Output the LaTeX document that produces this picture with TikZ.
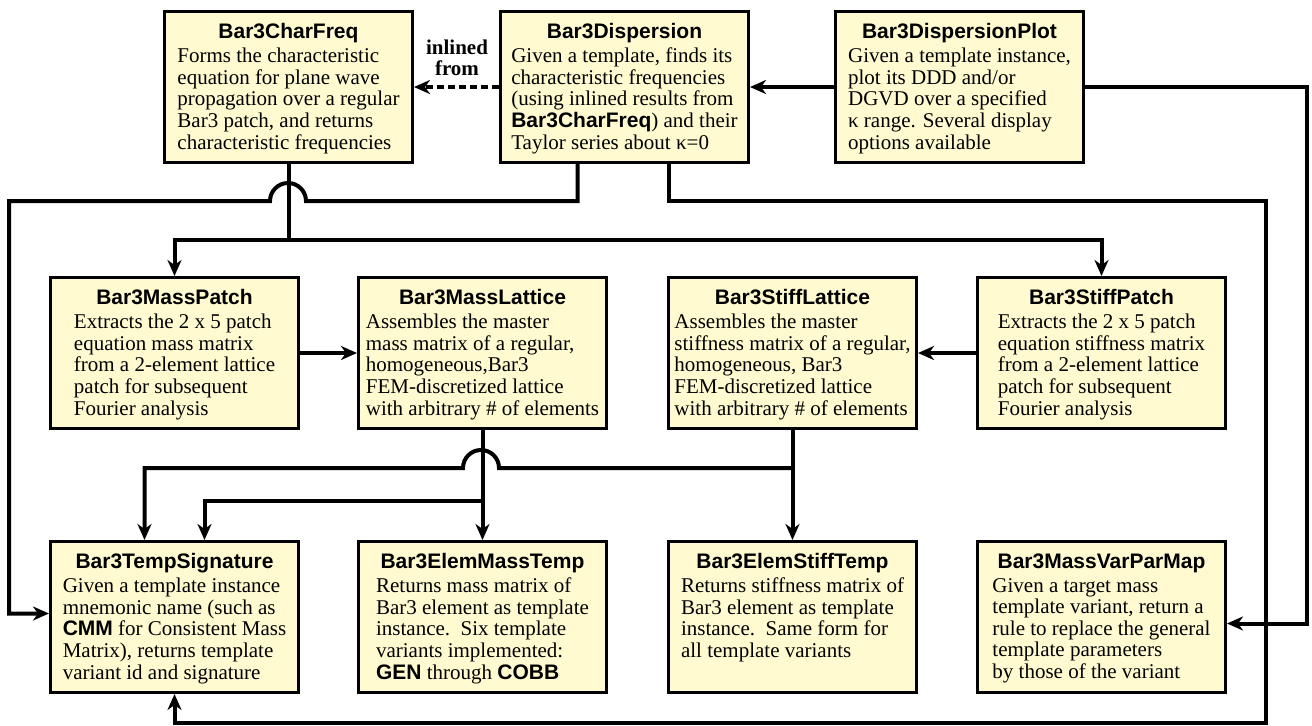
\documentclass[tikz,border=0pt]{standalone}
\usepackage{fontspec}
\setmainfont{Liberation Serif}
\setsansfont{Liberation Sans}
\usetikzlibrary{arrows.meta}

\definecolor{notefill}{RGB}{255,250,208}
\newcommand{\tname}[1]{{\sffamily\bfseries #1}}
\newcommand{\modtext}[2]{\parbox[c][75.5pt][t]{124pt}{%
    \fontsize{10.5}{10.8}\selectfont\vspace*{6pt}\centering
    \tname{#1}\par\vspace{1.2pt}
    \begin{tabular}[t]{@{}l@{}}#2\end{tabular}}}

\begin{document}
\begin{tikzpicture}[x=0.5pt, y=-0.5pt]
      \tikzset{>={Stealth[length=8pt,width=7pt,inset=2.5pt]}}
      \tikzset{modbox/.style={draw, line width=1.5pt, fill=notefill, inner sep=0pt, anchor=north west},
               wire/.style={line width=2pt}}
      \useasboundingbox (0,0) rectangle (1312,725);

      % top row
      \node[modbox] (charfreq) at (163,10) {\modtext{Bar3CharFreq}{Forms the characteristic\\
            equation for plane wave\\ propagation over a regular\\ Bar3 patch, and returns\\
            characteristic frequencies}};
      \node[modbox] (dispersion) at (499,10) {\modtext{Bar3Dispersion}{Given a template, finds its\\
            characteristic frequencies\\ (using inlined results from\\ \tname{Bar3CharFreq}) and their\\
            Taylor series about κ=0}};
      \node[modbox] (dispplot) at (834,10) {\modtext{Bar3DispersionPlot}{Given a template instance,\\
            plot its DDD and/or\\ DGVD over a specified\\ κ range. Several display\\
            options available}};

      % middle row
      \node[modbox] (masspatch) at (49,276) {\modtext{Bar3MassPatch}{Extracts the 2 x 5 patch\\
            equation mass matrix\\ from a 2-element lattice\\ patch for subsequent\\ Fourier analysis}};
      \node[modbox] (masslattice) at (357,276) {\modtext{Bar3MassLattice}{Assembles the master\\
            mass matrix of a regular,\\ homogeneous,Bar3\\ FEM-discretized lattice\\
            with arbitrary \# of elements}};
      \node[modbox] (stifflattice) at (667,276) {\modtext{Bar3StiffLattice}{Assembles the master\\
            stiffness matrix of a regular,\\ homogeneous, Bar3\\ FEM-discretized lattice\\
            with arbitrary \# of elements}};
      \node[modbox] (stiffpatch) at (976,276) {\modtext{Bar3StiffPatch}{Extracts the 2 x 5 patch\\
            equation stiffness matrix\\ from a 2-element lattice\\ patch for subsequent\\ Fourier analysis}};

      % bottom row
      \node[modbox] (tempsig) at (49,540) {\modtext{Bar3TempSignature}{Given a template instance\\
            mnemonic name (such as\\ \tname{CMM} for Consistent Mass\\ Matrix), returns template\\
            variant id and signature}};
      \node[modbox] (elemmass) at (357,540) {\modtext{Bar3ElemMassTemp}{Returns mass matrix of\\
            Bar3 element as template\\ instance.\ \ Six template\\ variants implemented:\\
            \tname{GEN} through \tname{COBB}}};
      \node[modbox] (elemstiff) at (667,540) {\modtext{Bar3ElemStiffTemp}{Returns stiffness matrix of\\
            Bar3 element as template\\ instance.\ \ Same form for\\ all template variants}};
      \node[modbox] (massvarpar) at (976,540) {\modtext{Bar3MassVarParMap}{Given a target mass\\
            template variant, return a\\ rule to replace the general\\ template parameters\\
            by those of the variant}};

      % top row links
      \draw[->, wire, dash pattern=on 3.5pt off 2pt] (dispersion.west) -- (charfreq.east);
      \node[font=\fontsize{10.5}{10.5}\selectfont\bfseries, align=center] (inlined) at (457,58) {inlined\\from};
      \draw[->, wire] (dispplot.west) -- (dispersion.east);
      \draw[->, wire] (dispplot.east) -| (1307,400) |- ([yshift=-3.25pt]massvarpar.east);

      % charfreq feeds both patches
      \draw[->, wire] (charfreq.south) -- ++(0,76) -| (masspatch.north);
      \draw[->, wire] (charfreq.south) -- ++(0,76) -| (stiffpatch.north);

      % dispersion feeds the signature
      \draw[->, wire] ([xshift=-23.5pt]dispersion.south) |- (306,201) arc (0:180:9pt)
            -- (9,201) |- ([yshift=1.75pt]tempsig.west);
      \draw[->, wire] ([xshift=22pt]dispersion.south) |- (1266,201) |- (500,723) -| (tempsig.south);

      % patches to lattices
      \draw[->, wire] (masspatch.east) -- (masslattice.west);
      \draw[->, wire] (stiffpatch.west) -- (stifflattice.east);

      % lattices to templates
      \draw[->, wire] (masslattice.south) -- (elemmass.north);
      \draw[->, wire] ([yshift=-35.5pt]masslattice.south) -| ([xshift=15pt]tempsig.north);
      \draw[->, wire] (stifflattice.south) -- (elemstiff.north);
      \draw[->, wire] ([yshift=-19pt]stifflattice.south) -- ([yshift=-19pt]stifflattice.south -| 499,0)
            arc (0:180:9pt) -| ([xshift=-15pt]tempsig.north);
\end{tikzpicture}
\end{document}
